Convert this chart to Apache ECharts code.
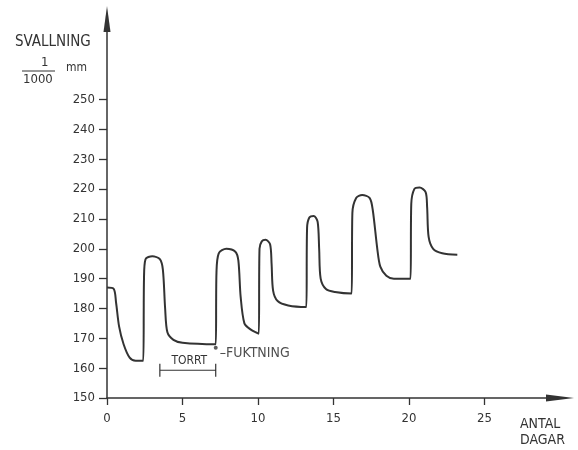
<!DOCTYPE html>
<html>
<head>
<meta charset="utf-8">
<script src="https://cdn.jsdelivr.net/npm/echarts@6/dist/echarts.min.js"></script>
<style>
  html, body { margin: 0; padding: 0; background: #fff; }
  #main { width: 578px; height: 450px; }
</style>
</head>
<body>
<div id="main"></div>
<script>
var myChart = echarts.init(document.getElementById('main'));

// antal dagar / svallning (1/1000 mm)
var days = [0, 0.45, 0.6, 0.8, 1.1, 1.5, 1.9, 2.4,
    2.45, 2.55, 3.0, 3.5, 3.7, 3.85, 4.0, 4.4, 5.0, 7.2,
    7.25, 7.4, 7.9, 8.5, 8.7, 8.85, 9.1, 9.5, 10.05,
    10.1, 10.25, 10.5, 10.8, 10.9, 11.0, 11.3, 12.0, 13.2,
    13.25, 13.4, 13.7, 13.95, 14.05, 14.15, 14.5, 15.1, 16.2,
    16.25, 16.5, 16.9, 17.4, 17.6, 17.9, 18.1, 18.5, 19.0, 20.1,
    20.15, 20.35, 20.7, 21.1, 21.2, 21.3, 21.6, 22.2, 23.2];
var swell = [187, 186.5, 182, 174, 168, 163.5, 162.5, 162.5,
    190, 196.5, 197.5, 196.5, 193, 180, 172, 169.5, 168.5, 168,
    192, 198.5, 200, 199, 196, 184, 175, 173, 171.5,
    200, 202.5, 203, 201.5, 195, 186, 182.5, 181, 180.5,
    207, 210.5, 211, 209, 200, 190, 186.5, 185.5, 185,
    212, 217, 218, 217, 213, 200, 194, 191, 190, 190,
    215, 220, 220.5, 219, 214, 204, 200, 198.5, 198];

var xTicks = [0, 5, 10, 15, 20, 25];
var yTicks = [150, 160, 170, 180, 190, 200, 210, 220, 230, 240, 250];

// torrt-perioden och fuktningspunkten
var dryStart = 3.5, dryEnd = 7.2, dryLevel = 159.3;
var wetPoint = [7.2, 166.8];

var ink = '#333';
var labelFont = 'DejaVu Sans Condensed';

var curve = days.map(function (d, i) { return [d, swell[i]]; });
var bracket = [
    [dryStart, dryLevel - 2.2], [dryStart, dryLevel + 2.2], [dryStart, dryLevel],
    [dryEnd, dryLevel], [dryEnd, dryLevel + 2.2], [dryEnd, dryLevel - 2.2]
];

option = {
    animation: false,
    backgroundColor: '#fff',
    grid: {
        left: 107,
        right: 18,
        top: 19,
        bottom: 52
    },
    xAxis: {
        type: 'value',
        min: 0,
        max: 30,
        interval: 5,
        splitLine: {show: false},
        axisLine: {
            symbol: ['none', 'triangle'],
            symbolSize: [7, 28],
            lineStyle: {color: ink, width: 1.5}
        },
        axisTick: {
            customValues: xTicks,
            length: 7,
            lineStyle: {color: ink, width: 1.3}
        },
        axisLabel: {
            customValues: xTicks,
            margin: 14,
            color: ink,
            fontSize: 13,
            fontFamily: labelFont
        }
    },
    yAxis: {
        type: 'value',
        min: 150,
        max: 277,
        splitLine: {show: false},
        axisLine: {
            symbol: ['none', 'triangle'],
            symbolSize: [7, 26],
            lineStyle: {color: ink, width: 1.5}
        },
        axisTick: {
            customValues: yTicks,
            length: 8,
            lineStyle: {color: ink, width: 1.3}
        },
        axisLabel: {
            customValues: yTicks,
            margin: 12,
            color: ink,
            fontSize: 13,
            fontFamily: labelFont
        }
    },
    series: [
        {
            name: 'svallning',
            type: 'line',
            data: curve,
            smooth: 0.3,
            showSymbol: false,
            lineStyle: {color: ink, width: 2}
        },
        {
            name: 'torrt',
            type: 'line',
            data: bracket,
            showSymbol: false,
            lineStyle: {color: ink, width: 1.2},
            markPoint: {
                symbol: 'circle',
                symbolSize: 0,
                data: [{
                    coord: [(dryStart + dryEnd) / 2 + 0.1, dryLevel + 3.3],
                    label: {
                        show: true,
                        formatter: 'TORRT',
                        color: ink,
                        fontSize: 12,
                        fontFamily: labelFont
                    }
                }]
            }
        },
        {
            name: 'fuktning',
            type: 'scatter',
            data: [wetPoint],
            symbol: 'circle',
            symbolSize: 4,
            itemStyle: {color: ink},
            label: {
                show: true,
                position: 'right',
                distance: 2,
                offset: [0, 5],
                formatter: '–FUKTNING',
                color: '#222',
                fontSize: 14,
                fontFamily: labelFont
            },
            emphasis: {disabled: true}
        }
    ],
    graphic: [
        {type: 'text', left: 15, top: 35, style: {text: 'SVALLNING', fill: ink, font: '15px ' + labelFont}},
        {type: 'text', left: 41, top: 56, style: {text: '1', fill: ink, font: '13px ' + labelFont}},
        {type: 'line', shape: {x1: 22, y1: 71, x2: 55, y2: 71}, style: {stroke: ink, lineWidth: 1.2}},
        {type: 'text', left: 23, top: 73, style: {text: '1000', fill: ink, font: '13px ' + labelFont}},
        {type: 'text', left: 66, top: 62, style: {text: 'mm', fill: ink, font: '12px ' + labelFont}},
        {type: 'text', left: 520, top: 417, style: {text: 'ANTAL', fill: ink, font: '14px ' + labelFont}},
        {type: 'text', left: 520, top: 433, style: {text: 'DAGAR', fill: ink, font: '14px ' + labelFont}}
    ]
};

myChart.setOption(option);
</script>
</body>
</html>
